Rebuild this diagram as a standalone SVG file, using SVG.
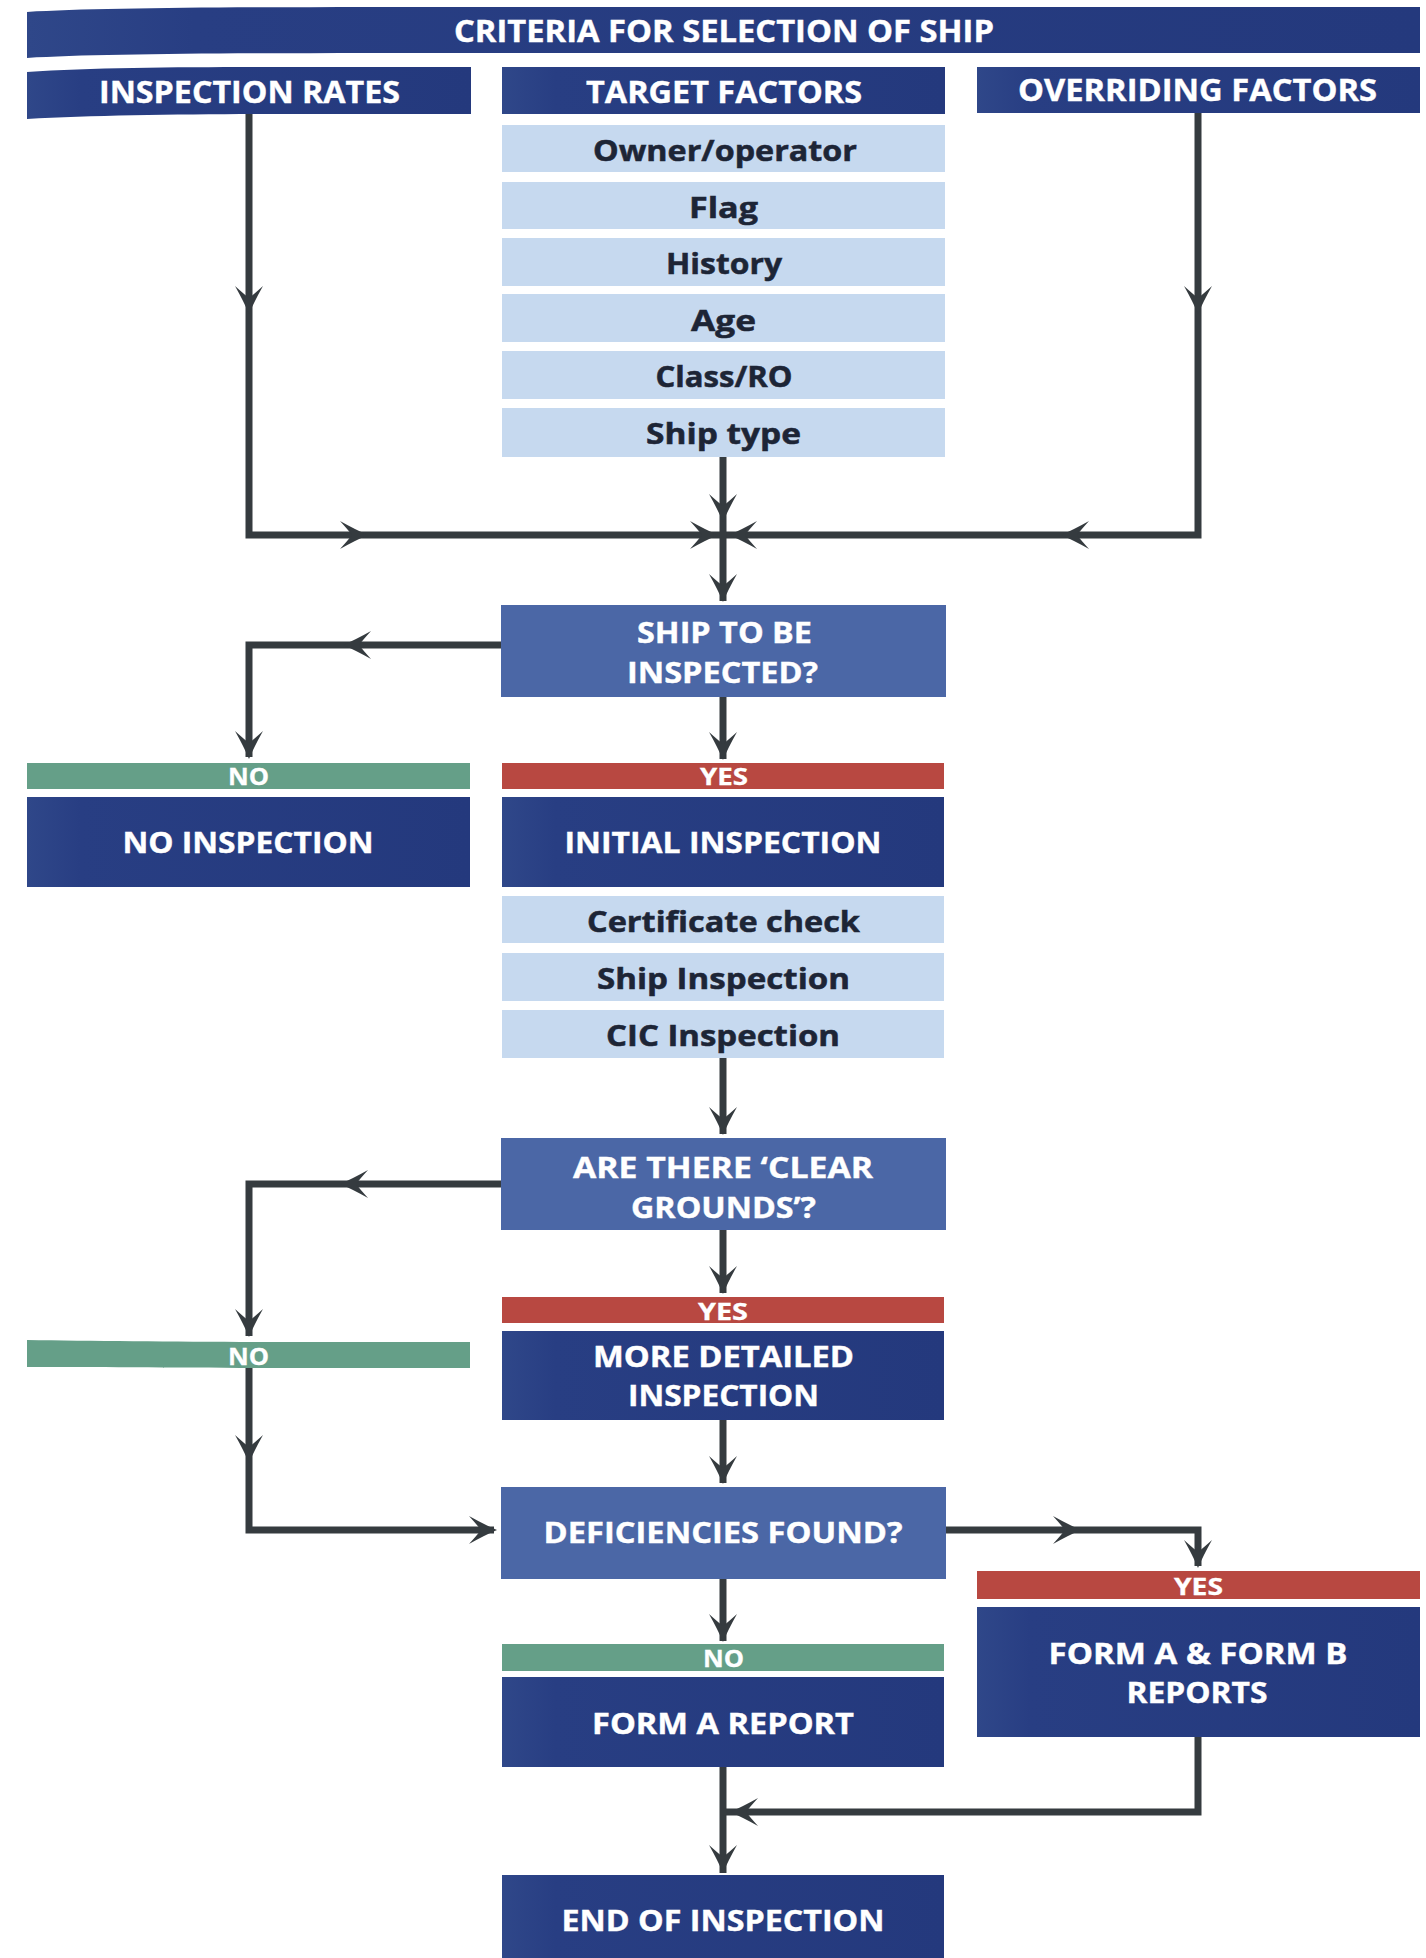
<svg xmlns="http://www.w3.org/2000/svg" xmlns:xlink="http://www.w3.org/1999/xlink" width="1426" height="1958" viewBox="0 0 1426 1958">
<style>
.navy{fill:url(#gNavy)}
.mid{fill:#4b67a6}
.light{fill:#c6d9ef}
.green{fill:#659f88}
.red{fill:#b84841}
text{font-family:"Open Sans","Liberation Sans",Arial,sans-serif;font-weight:700;text-anchor:middle;paint-order:stroke}
.w{fill:#ffffff;stroke:#ffffff;stroke-width:0.4}
.hd{font-size:31px}
.lb{font-size:29px}
.rw{font-size:28px;fill:#1d2536;stroke:#1d2536;stroke-width:0.5}
.bar{font-size:23px;fill:#ffffff;stroke:#ffffff;stroke-width:0.3}
.ln{fill:none;stroke:#353b3f;stroke-width:7;stroke-linejoin:miter}
.ah{fill:#353b3f}
</style>
<defs>
<linearGradient id="gNavy" x1="0" y1="0" x2="1" y2="0">
<stop offset="0" stop-color="#2f4789"/>
<stop offset="0.12" stop-color="#283e83"/>
<stop offset="1" stop-color="#24397d"/>
</linearGradient>
<path id="ah" d="M0,0 Q-12,-5 -28,-14 Q-19,-4 -16,0 Q-19,4 -28,14 Q-12,5 0,0 Z"/>
</defs>
<rect width="1426" height="1958" fill="#ffffff"/>

<g id="criteria">
<path class="navy" d="M27,12 C110,7 280,7 500,7 L1420,7 L1420,53 L500,53 C280,53 110,53 27,58 Z"/>
<text class="w hd" x="724" y="42" textLength="540" lengthAdjust="spacingAndGlyphs">CRITERIA FOR SELECTION OF SHIP</text>
</g>

<g id="inspection-rates">
<path class="navy" d="M27,72 C100,67 200,67 300,67 L471,67 L471,114 L300,114 C200,114 100,115 27,119 Z"/>
<text class="w hd" x="249.5" y="103" textLength="301" lengthAdjust="spacingAndGlyphs">INSPECTION RATES</text>
</g>

<g id="target-factors">
<rect class="navy" x="502" y="67" width="443" height="47"/>
<text class="w hd" x="724" y="103" textLength="276" lengthAdjust="spacingAndGlyphs">TARGET FACTORS</text>
<rect class="light" x="502" y="125" width="443" height="47"/>
<text class="rw" x="725" y="161" textLength="264" lengthAdjust="spacingAndGlyphs">Owner/operator</text>
<rect class="light" x="502" y="182" width="443" height="47"/>
<text class="rw" x="723.5" y="218" textLength="69" lengthAdjust="spacingAndGlyphs">Flag</text>
<rect class="light" x="502" y="238" width="443" height="48"/>
<text class="rw" x="724" y="274" textLength="116" lengthAdjust="spacingAndGlyphs">History</text>
<rect class="light" x="502" y="294" width="443" height="48"/>
<text class="rw" x="723.5" y="331" textLength="65" lengthAdjust="spacingAndGlyphs">Age</text>
<rect class="light" x="502" y="351" width="443" height="48"/>
<text class="rw" x="724" y="387" textLength="137" lengthAdjust="spacingAndGlyphs">Class/RO</text>
<rect class="light" x="502" y="408" width="443" height="49"/>
<text class="rw" x="723.5" y="444" textLength="155" lengthAdjust="spacingAndGlyphs">Ship type</text>
</g>

<g id="overriding-factors">
<rect class="navy" x="977" y="67" width="443" height="46"/>
<text class="w hd" x="1197.5" y="101" textLength="359" lengthAdjust="spacingAndGlyphs">OVERRIDING FACTORS</text>
</g>

<g id="ship-to-be-inspected">
<rect class="mid" x="501" y="605" width="445" height="92"/>
<text class="w lb" x="724.5" y="643" textLength="175" lengthAdjust="spacingAndGlyphs">SHIP TO BE</text>
<text class="w lb" x="722.5" y="683" textLength="191" lengthAdjust="spacingAndGlyphs">INSPECTED?</text>
</g>

<g id="no-inspection">
<rect class="green" x="27" y="763" width="443" height="26"/>
<text class="bar" x="248.5" y="785" textLength="41" lengthAdjust="spacingAndGlyphs">NO</text>
<rect class="navy" x="27" y="797" width="443" height="90"/>
<text class="w lb" x="248" y="853" textLength="251" lengthAdjust="spacingAndGlyphs">NO INSPECTION</text>
</g>

<g id="initial-inspection">
<rect class="red" x="502" y="763" width="442" height="26"/>
<text class="bar" x="724" y="785" textLength="48" lengthAdjust="spacingAndGlyphs">YES</text>
<rect class="navy" x="502" y="797" width="442" height="90"/>
<text class="w lb" x="723" y="853" textLength="317" lengthAdjust="spacingAndGlyphs">INITIAL INSPECTION</text>
<rect class="light" x="502" y="896" width="442" height="47"/>
<text class="rw" x="723.5" y="932" textLength="273" lengthAdjust="spacingAndGlyphs">Certificate check</text>
<rect class="light" x="502" y="953" width="442" height="48"/>
<text class="rw" x="723.5" y="989" textLength="253" lengthAdjust="spacingAndGlyphs">Ship Inspection</text>
<rect class="light" x="502" y="1010" width="442" height="48"/>
<text class="rw" x="723" y="1046" textLength="234" lengthAdjust="spacingAndGlyphs">CIC Inspection</text>
</g>

<g id="clear-grounds">
<rect class="mid" x="501" y="1138" width="445" height="92"/>
<text class="w lb" x="723" y="1178" textLength="300" lengthAdjust="spacingAndGlyphs">ARE THERE ‘CLEAR</text>
<text class="w lb" x="723.5" y="1218" textLength="185" lengthAdjust="spacingAndGlyphs">GROUNDS’?</text>
</g>

<g id="no-clear-grounds">
<path class="green" d="M27,1340 C100,1341 200,1342 300,1342 L470,1342 L470,1368 L300,1368 C200,1368 100,1367 27,1367 Z"/>
<text class="bar" x="248.5" y="1365" textLength="41" lengthAdjust="spacingAndGlyphs">NO</text>
</g>

<g id="more-detailed-inspection">
<rect class="red" x="502" y="1297" width="442" height="26"/>
<text class="bar" x="723" y="1320" textLength="50" lengthAdjust="spacingAndGlyphs">YES</text>
<rect class="navy" x="502" y="1331" width="442" height="89"/>
<text class="w lb" x="723.5" y="1367" textLength="261" lengthAdjust="spacingAndGlyphs">MORE DETAILED</text>
<text class="w lb" x="723.5" y="1406" textLength="191" lengthAdjust="spacingAndGlyphs">INSPECTION</text>
</g>

<g id="deficiencies-found">
<rect class="mid" x="501" y="1487" width="445" height="92"/>
<text class="w lb" x="723" y="1543" textLength="359" lengthAdjust="spacingAndGlyphs">DEFICIENCIES FOUND?</text>
</g>

<g id="form-a-b-reports">
<rect class="red" x="977" y="1571" width="443" height="28"/>
<text class="bar" x="1198.5" y="1595" textLength="49" lengthAdjust="spacingAndGlyphs">YES</text>
<rect class="navy" x="977" y="1607" width="443" height="130"/>
<text class="w lb" x="1198" y="1664" textLength="299" lengthAdjust="spacingAndGlyphs">FORM A &amp; FORM B</text>
<text class="w lb" x="1197" y="1703" textLength="141" lengthAdjust="spacingAndGlyphs">REPORTS</text>
</g>

<g id="form-a-report">
<rect class="green" x="502" y="1644" width="442" height="27"/>
<text class="bar" x="723.5" y="1667" textLength="41" lengthAdjust="spacingAndGlyphs">NO</text>
<rect class="navy" x="502" y="1677" width="442" height="90"/>
<text class="w lb" x="723" y="1734" textLength="262" lengthAdjust="spacingAndGlyphs">FORM A REPORT</text>
</g>

<g id="end-of-inspection">
<rect class="navy" x="502" y="1875" width="442" height="83"/>
<text class="w lb" x="723" y="1931" textLength="323" lengthAdjust="spacingAndGlyphs">END OF INSPECTION</text>
</g>

<g id="connectors">
<path class="ln" d="M249,114 V535 H723"/>
<path class="ln" d="M1198,113 V535 H723"/>
<path class="ln" d="M723,457 V601"/>
<path class="ln" d="M501,645 H249 V757"/>
<path class="ln" d="M723,697 V759"/>
<path class="ln" d="M723,1058 V1134"/>
<path class="ln" d="M501,1184 H249 V1336"/>
<path class="ln" d="M249,1368 V1530 H494"/>
<path class="ln" d="M723,1230 V1293"/>
<path class="ln" d="M723,1420 V1483"/>
<path class="ln" d="M946,1530 H1198 V1566"/>
<path class="ln" d="M723,1579 V1641"/>
<path class="ln" d="M723,1767 V1873"/>
<path class="ln" d="M1198,1737 V1812 H723"/>
<g class="ah">
<use xlink:href="#ah" transform="translate(249,314) rotate(90)"/>
<use xlink:href="#ah" transform="translate(1198,314) rotate(90)"/>
<use xlink:href="#ah" transform="translate(368,535)"/>
<use xlink:href="#ah" transform="translate(718,535)"/>
<use xlink:href="#ah" transform="translate(1061,535) rotate(180)"/>
<use xlink:href="#ah" transform="translate(729,535) rotate(180)"/>
<use xlink:href="#ah" transform="translate(723,522) rotate(90)"/>
<use xlink:href="#ah" transform="translate(723,602) rotate(90)"/>
<use xlink:href="#ah" transform="translate(343,645) rotate(180)"/>
<use xlink:href="#ah" transform="translate(249,759) rotate(90)"/>
<use xlink:href="#ah" transform="translate(723,760) rotate(90)"/>
<use xlink:href="#ah" transform="translate(723,1135) rotate(90)"/>
<use xlink:href="#ah" transform="translate(340,1184) rotate(180)"/>
<use xlink:href="#ah" transform="translate(249,1337) rotate(90)"/>
<use xlink:href="#ah" transform="translate(249,1463) rotate(90)"/>
<use xlink:href="#ah" transform="translate(497,1530)"/>
<use xlink:href="#ah" transform="translate(723,1294) rotate(90)"/>
<use xlink:href="#ah" transform="translate(723,1484) rotate(90)"/>
<use xlink:href="#ah" transform="translate(1081,1530)"/>
<use xlink:href="#ah" transform="translate(1198,1568) rotate(90)"/>
<use xlink:href="#ah" transform="translate(723,1642) rotate(90)"/>
<use xlink:href="#ah" transform="translate(723,1873) rotate(90)"/>
<use xlink:href="#ah" transform="translate(730,1812) rotate(180)"/>
</g>
</g>
</svg>
